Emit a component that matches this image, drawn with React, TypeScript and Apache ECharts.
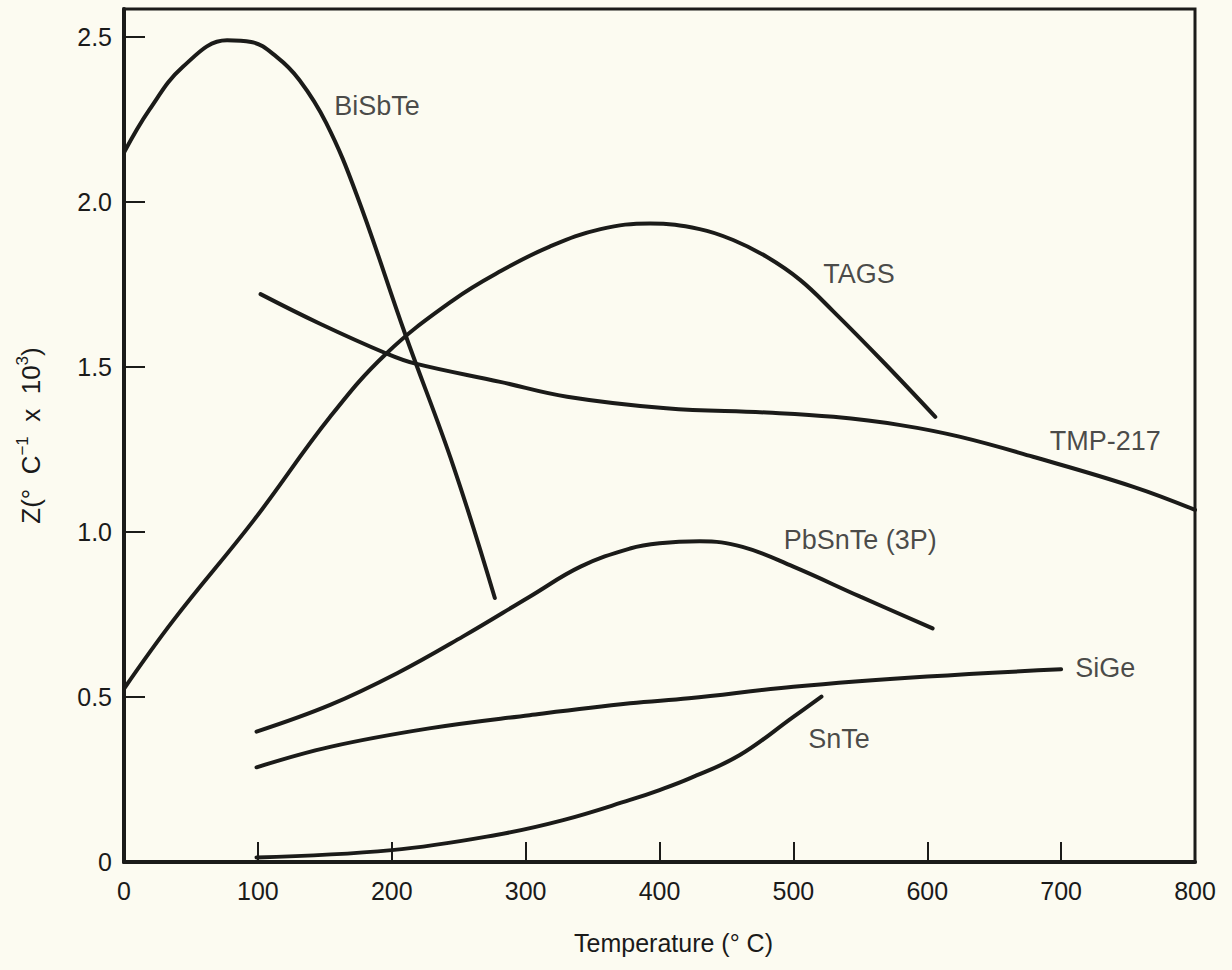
import React, { useEffect, useRef } from "react";
import * as echarts from "echarts";

// Temperature (°C), Z values
const biSbTe: number[][] = [
  [0, 2.15], [19, 2.28], [44, 2.41], [77, 2.49], [95, 2.485], [114, 2.44],
  [131, 2.37], [151, 2.24], [174, 2.02], [210, 1.6], [246, 1.2], [277, 0.8],
];
const tags: number[][] = [
  [0, 0.525], [37, 0.733], [97, 1.036], [154, 1.349], [196, 1.541], [246, 1.703],
  [281, 1.79], [318, 1.865], [356, 1.918], [393, 1.935], [430, 1.918], [455, 1.885],
  [480, 1.834], [505, 1.764], [530, 1.668], [567, 1.516], [606, 1.349],
];
const tmp217: number[][] = [
  [102, 1.721], [146, 1.632], [196, 1.541], [217, 1.511], [281, 1.455], [331, 1.41],
  [405, 1.375], [480, 1.362], [530, 1.349], [580, 1.324], [624, 1.289], [679, 1.228],
  [754, 1.137], [800, 1.067],
];
const pbSnTe: number[][] = [
  [99, 0.395], [154, 0.476], [204, 0.572], [253, 0.683], [303, 0.804], [341, 0.895],
  [378, 0.95], [400, 0.966], [430, 0.972], [462, 0.955], [500, 0.895], [550, 0.804],
  [604, 0.708],
];
const siGe: number[][] = [
  [99, 0.287], [154, 0.349], [228, 0.405], [303, 0.445], [378, 0.481], [422, 0.496],
  [500, 0.531], [600, 0.562], [700, 0.584],
];
const snTe: number[][] = [
  [99, 0.014], [200, 0.036], [278, 0.082], [328, 0.127], [378, 0.188], [400, 0.218],
  [423, 0.254], [460, 0.324], [500, 0.44], [521, 0.501],
];

const seriesNames = ["BiSbTe", "TAGS", "TMP-217", "PbSnTe (3P)", "SiGe", "SnTe"];
const seriesData = [biSbTe, tags, tmp217, pbSnTe, siGe, snTe];

// curve label anchors: [x, y, text]
const curveLabels: (number | string)[][] = [
  [189, 2.291, "BiSbTe"],
  [549, 1.782, "TAGS"],
  [733, 1.276, "TMP-217"],
  [550, 0.976, "PbSnTe (3P)"],
  [733, 0.589, "SiGe"],
  [534, 0.373, "SnTe"],
];

const xTitle = "Temperature (° C)";
// Z(° C⁻¹ x 10³) written with rich-text superscripts
const yTitle = "{a|Z(°  C}{s|−1}{a|  x  10}{s|3}{a|)}";

const INK = "#1b1b19";
const TXT = "#1a1a1a";
const FONT = "'Liberation Sans', Arial, Helvetica, sans-serif";

export default function App() {
  const ref = useRef<HTMLDivElement>(null);
  useEffect(() => {
    document.body.style.margin = "0";
    const chart = echarts.init(ref.current!, null, { renderer: "svg" });
    const lineSeries = seriesData.map((d, i) => ({
      name: seriesNames[i],
      type: "line",
      data: d,
      smooth: 0.4,
      showSymbol: false,
      symbol: "none",
      lineStyle: { color: INK, width: 4, cap: "round" },
      silent: true,
      z: 3,
    }));
    chart.setOption({
      animation: false,
      backgroundColor: "#fcfbf1",
      textStyle: { fontFamily: FONT },
      grid: {
        left: 124,
        right: 37,
        top: 9,
        bottom: 108,
        show: true,
        borderColor: INK,
        borderWidth: 3,
        backgroundColor: "transparent",
      },
      xAxis: {
        type: "value",
        min: 0,
        max: 800,
        interval: 100,
        name: xTitle,
        nameLocation: "middle",
        nameGap: 68,
        nameTextStyle: { fontSize: 25, color: TXT, fontFamily: FONT, padding: [0, 0, 0, 28] },
        axisLine: { show: true, lineStyle: { color: INK, width: 4 } },
        axisTick: { show: true, inside: true, length: 20, lineStyle: { color: INK, width: 2 } },
        axisLabel: { fontSize: 25, color: TXT, margin: 16, fontFamily: FONT },
        splitLine: { show: false },
      },
      yAxis: {
        type: "value",
        min: 0,
        max: 2.585,
        interval: 0.5,
        name: yTitle,
        nameLocation: "middle",
        nameRotate: 90,
        nameGap: 80,
        nameTextStyle: {
          color: TXT,
          fontFamily: FONT,
          rich: {
            a: { fontSize: 26, lineHeight: 30, color: TXT, fontFamily: FONT, verticalAlign: "bottom" },
            s: { fontSize: 17, lineHeight: 30, color: TXT, fontFamily: FONT, verticalAlign: "top" },
          },
        },
        axisLine: { show: true, lineStyle: { color: INK, width: 4 } },
        axisTick: { show: true, inside: true, length: 21, lineStyle: { color: INK, width: 2 } },
        axisLabel: {
          fontSize: 25,
          color: TXT,
          margin: 12,
          fontFamily: FONT,
          showMaxLabel: false,
          formatter: (v: number) => (v === 0 ? "0" : v.toFixed(1)),
        },
        splitLine: { show: false },
      },
      series: [
        ...lineSeries,
        {
          type: "scatter",
          data: curveLabels,
          symbolSize: 0,
          silent: true,
          z: 5,
          label: {
            show: true,
            position: "inside",
            formatter: (p: any) => p.data[2],
            fontSize: 27,
            color: TXT,
            fontFamily: FONT,
          },
        },
      ],
    });
    return () => chart.dispose();
  }, []);
  return (
    <div
      ref={ref}
      style={{ position: "absolute", left: 0, top: 0, width: 1232, height: 970 }}
    />
  );
}
